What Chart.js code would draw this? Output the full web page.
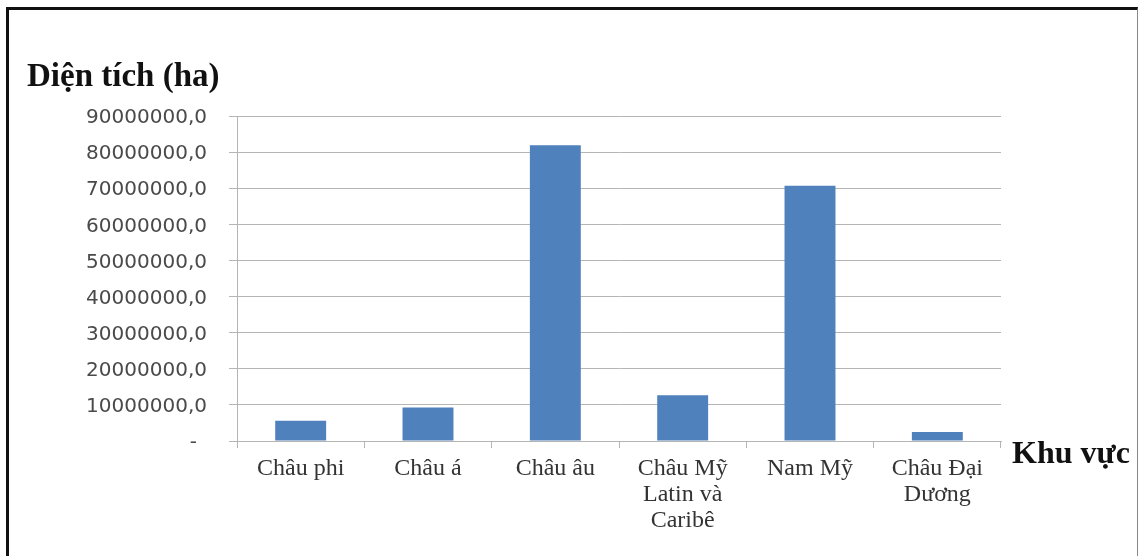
<!DOCTYPE html>
<html lang="vi">
<head>
<meta charset="utf-8">
<title>Diện tích theo khu vực</title>
<script src="https://cdn.jsdelivr.net/npm/chart.js@4.4.1/dist/chart.umd.min.js"></script>
<style>
  html, body { margin: 0; padding: 0; background: #fff; overflow: hidden; }
  #frame {
    position: absolute; left: 6px; top: 7px; width: 1132px; height: 570px;
    box-sizing: border-box;
    border-left: 3px solid #111; border-top: 3px solid #111; border-right: 1px solid #888;
  }
  #chart { position: absolute; left: 0; top: 0; }
</style>
</head>
<body>
<div id="frame"></div>
<canvas id="chart" width="1139" height="556"></canvas>
<script>
// Diện tích theo khu vực (ha)
const regions = [
  ['Châu phi'],
  ['Châu á'],
  ['Châu âu'],
  ['Châu Mỹ', 'Latin và', 'Caribê'],
  ['Nam Mỹ'],
  ['Châu Đại', 'Dương']
];
const areas = [5600000, 9300000, 81900000, 12700000, 70700000, 2500000];
const yTicks = [0, 10000000, 20000000, 30000000, 40000000, 50000000, 60000000, 70000000, 80000000, 90000000];
const yTitle = 'Diện tích (ha)';
const xTitle = 'Khu vực';

const GRID = '#b5b5b5';

// axis titles sit outside the usual Chart.js title slots
const axisTitles = {
  id: 'axisTitles',
  afterDraw(chart) {
    const { ctx, chartArea } = chart;
    ctx.save();
    ctx.fillStyle = '#111';
    ctx.textAlign = 'left';
    ctx.textBaseline = 'alphabetic';
    ctx.font = 'bold 33px "Liberation Serif", serif';
    ctx.fillText(yTitle, chartArea.left - 210, chartArea.top - 30);
    ctx.font = 'bold 32px "Liberation Serif", serif';
    ctx.fillText(xTitle, chartArea.right + 11, chartArea.bottom + 22);
    ctx.restore();
  }
};

new Chart(document.getElementById('chart'), {
  type: 'bar',
  data: {
    labels: regions,
    datasets: [{
      label: yTitle,
      data: areas,
      backgroundColor: '#4f81bd',
      borderWidth: 0,
      categoryPercentage: 1,
      barPercentage: 0.4
    }]
  },
  options: {
    responsive: false,
    animation: false,
    layout: { padding: { top: 116, right: 138, bottom: 0, left: 0 } },
    plugins: {
      legend: { display: false },
      tooltip: { enabled: false }
    },
    scales: {
      x: {
        grid: { drawOnChartArea: false, color: GRID, tickLength: 7 },
        border: { color: GRID },
        ticks: {
          color: '#333',
          font: { family: '"Liberation Serif", serif', size: 24, lineHeight: 1.085 },
          padding: 8,
          maxRotation: 0,
          autoSkip: false
        },
        afterFit(s) { s.height = 115; s.paddingLeft = 0; s.paddingRight = 0; }
      },
      y: {
        min: 0,
        max: 90000000,
        afterBuildTicks(s) { s.ticks = yTicks.map(v => ({ value: v })); },
        grid: { color: GRID, tickLength: 8 },
        border: { color: GRID },
        ticks: {
          color: '#4a4a4a',
          font: { family: '"DejaVu Sans", sans-serif', size: 20 },
          padding: 22,
          labelOffset: 2,
          callback: v => v === 0 ? '-\u2002' : v + ',0'
        },
        afterFit(s) { s.width = 237; s.paddingTop = 0; s.paddingBottom = 0; }
      }
    }
  },
  plugins: [axisTitles]
});
</script>
</body>
</html>
